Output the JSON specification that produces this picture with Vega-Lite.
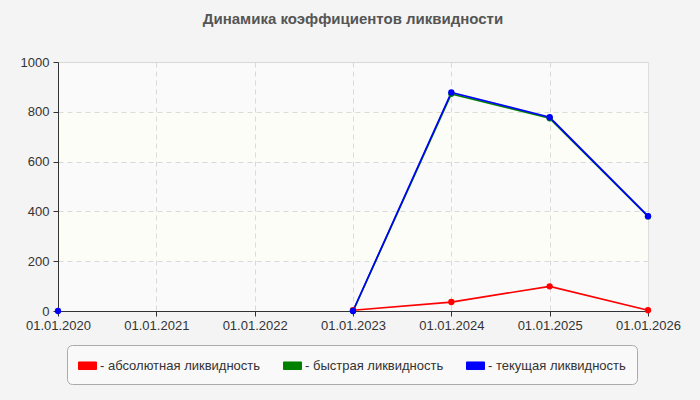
{
  "$schema": "https://vega.github.io/schema/vega-lite/v6.json",
  "autosize": "none",
  "width": 590,
  "height": 249,
  "padding": {"left": 58, "top": 62, "right": 52, "bottom": 89},
  "background": "#f4f4f4",
  "title": {
    "text": "Динамика коэффициентов ликвидности",
    "font": "Liberation Sans",
    "fontSize": 15,
    "fontWeight": "bold",
    "color": "#555555",
    "anchor": "middle",
    "frame": "group",
    "offset": 29
  },
  "config": {
    "font": "Liberation Sans",
    "view": {"fill": "#ffffff", "stroke": "#dddddd"},
    "axis": {
      "labelFont": "Liberation Sans",
      "labelFontSize": 13,
      "labelColor": "#333333",
      "domainColor": "#333333",
      "tickColor": "#333333",
      "tickSize": 5,
      "gridColor": "#dddddd",
      "gridDash": [5, 4],
      "title": null
    }
  },
  "datasets": {
    "bands_h": [{"lo": 0, "hi": 200}, {"lo": 400, "hi": 600}, {"lo": 800, "hi": 1000}],
    "bands_c": [{"lo": 200, "hi": 400}, {"lo": 600, "hi": 800}],
    "series": [
      {"date": "01.01.2020", "series": "абсолютная ликвидность", "value": null},
      {"date": "01.01.2021", "series": "абсолютная ликвидность", "value": null},
      {"date": "01.01.2022", "series": "абсолютная ликвидность", "value": null},
      {"date": "01.01.2023", "series": "абсолютная ликвидность", "value": 3},
      {"date": "01.01.2024", "series": "абсолютная ликвидность", "value": 36},
      {"date": "01.01.2025", "series": "абсолютная ликвидность", "value": 99},
      {"date": "01.01.2026", "series": "абсолютная ликвидность", "value": 3},
      {"date": "01.01.2020", "series": "быстрая ликвидность", "value": null},
      {"date": "01.01.2021", "series": "быстрая ликвидность", "value": null},
      {"date": "01.01.2022", "series": "быстрая ликвидность", "value": null},
      {"date": "01.01.2023", "series": "быстрая ликвидность", "value": 0},
      {"date": "01.01.2024", "series": "быстрая ликвидность", "value": 872},
      {"date": "01.01.2025", "series": "быстрая ликвидность", "value": 774},
      {"date": "01.01.2026", "series": "быстрая ликвидность", "value": 380},
      {"date": "01.01.2020", "series": "текущая ликвидность", "value": 0},
      {"date": "01.01.2021", "series": "текущая ликвидность", "value": null},
      {"date": "01.01.2022", "series": "текущая ликвидность", "value": null},
      {"date": "01.01.2023", "series": "текущая ликвидность", "value": 0},
      {"date": "01.01.2024", "series": "текущая ликвидность", "value": 878},
      {"date": "01.01.2025", "series": "текущая ликвидность", "value": 778},
      {"date": "01.01.2026", "series": "текущая ликвидность", "value": 381}
    ]
  },
  "layer": [
    {
      "data": {"name": "bands_h"},
      "mark": {"type": "rect", "fill": "#000000", "opacity": 0.02},
      "encoding": {
        "y": {"field": "lo", "type": "quantitative", "scale": {"domain": [0, 1000], "nice": false}},
        "y2": {"field": "hi"}
      }
    },
    {
      "data": {"name": "bands_c"},
      "mark": {"type": "rect", "fill": "#cccc00", "opacity": 0.03},
      "encoding": {
        "y": {"field": "lo", "type": "quantitative"},
        "y2": {"field": "hi"}
      }
    },
    {
      "data": {"name": "series"},
      "mark": {"type": "line", "invalid": "break-paths-filter-domains", "strokeWidth": 1.7},
      "encoding": {
        "x": {
          "field": "date", "type": "ordinal",
          "scale": {"type": "point", "padding": 0},
          "axis": {"labelAngle": 0, "grid": true, "labelPadding": 3, "domain": true}
        },
        "y": {
          "field": "value", "type": "quantitative",
          "scale": {"domain": [0, 1000], "nice": false},
          "axis": {"values": [0, 200, 400, 600, 800, 1000], "format": "d", "grid": true, "labelPadding": 4}
        },
        "color": {
          "field": "series", "type": "nominal",
          "scale": {
            "domain": ["абсолютная ликвидность", "быстрая ликвидность", "текущая ликвидность"],
            "range": ["#ff0000", "#008000", "#0000ff"]
          },
          "legend": {
            "orient": "none",
            "legendX": 9,
            "legendY": 283,
            "direction": "horizontal",
            "title": null,
            "symbolType": "M-1,-0.42H1V0.42H-1Z",
            "symbolSize": 324,
            "symbolStrokeColor": "#999999",
            "symbolStrokeWidth": 1,
            "labelExpr": "'- ' + datum.label",
            "labelFont": "Liberation Sans",
            "labelFontSize": 13,
            "labelColor": "#333333",
            "labelOffset": 3,
            "columnPadding": 20,
            "padding": 11,
            "fillColor": "#f9f9f9",
            "strokeColor": "#aaaaaa",
            "cornerRadius": 5,
            "labelLimit": 300
          }
        },
        "order": {"field": "series"}
      }
    },
    {
      "data": {"name": "series"},
      "mark": {"type": "point", "filled": true, "opacity": 1, "size": 40},
      "encoding": {
        "x": {"field": "date", "type": "ordinal"},
        "y": {"field": "value", "type": "quantitative"},
        "color": {"field": "series", "type": "nominal"}
      }
    }
  ]
}
